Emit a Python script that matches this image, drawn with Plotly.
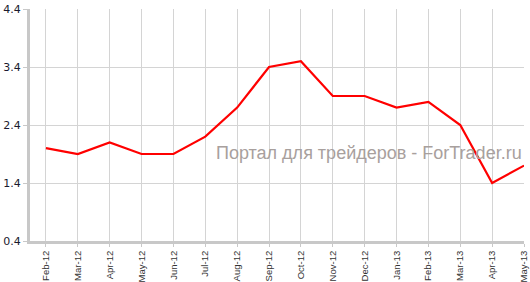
import plotly.graph_objects as go

months = ["Feb-12", "Mar-12", "Apr-12", "May-12", "Jun-12", "Jul-12", "Aug-12", "Sep-12",
          "Oct-12", "Nov-12", "Dec-12", "Jan-13", "Feb-13", "Mar-13", "Apr-13", "May-13"]
values = [2.0, 1.9, 2.1, 1.9, 1.9, 2.2, 2.7, 3.4, 3.5, 2.9, 2.9, 2.7, 2.8, 2.4, 1.4, 1.7]
y_ticks = [0.4, 1.4, 2.4, 3.4, 4.4]
y_labels = ["0.4", "1.4", "2.4", "3.4", "4.4"]
watermark = "Портал для трейдеров - ForTrader.ru"

fig = go.Figure()
fig.add_trace(go.Scatter(
    x=list(range(len(months))), y=values, mode="lines",
    line=dict(color="#ff0000", width=2.2), hoverinfo="skip", cliponaxis=False))

fig.add_annotation(text=watermark, xref="paper", yref="paper", x=1.0, y=0.38,
                   xanchor="right", yanchor="middle", showarrow=False,
                   font=dict(family="Liberation Sans, Arial", size=18, color="#a8a09d"))

fig.update_layout(
    width=530, height=282, margin=dict(l=30, r=6, t=9, b=41),
    paper_bgcolor="white", plot_bgcolor="white", showlegend=False,
    xaxis=dict(range=[-0.5, 15.0], tickmode="array", tickvals=list(range(len(months))),
               ticktext=months, tickangle=-90, showgrid=True, gridcolor="#d4d4d4", gridwidth=1,
               showline=True, linecolor="#c8c8c8", linewidth=3, ticks="outside", ticklen=3,
               tickcolor="#c8c8c8", zeroline=False, automargin=False,
               tickfont=dict(family="Liberation Sans, Arial", size=9.5, color="#333333")),
    yaxis=dict(range=[0.4, 4.4], tickmode="array", tickvals=y_ticks, ticktext=y_labels,
               showgrid=True, gridcolor="#d4d4d4", gridwidth=1, showline=True,
               linecolor="#c8c8c8", linewidth=3, ticks="outside", ticklen=4,
               tickcolor="#c8c8c8", zeroline=False, automargin=False,
               tickfont=dict(family="DejaVu Sans, Verdana", size=11, color="#1a1a2e")),
)

fig.write_html("out.html")
